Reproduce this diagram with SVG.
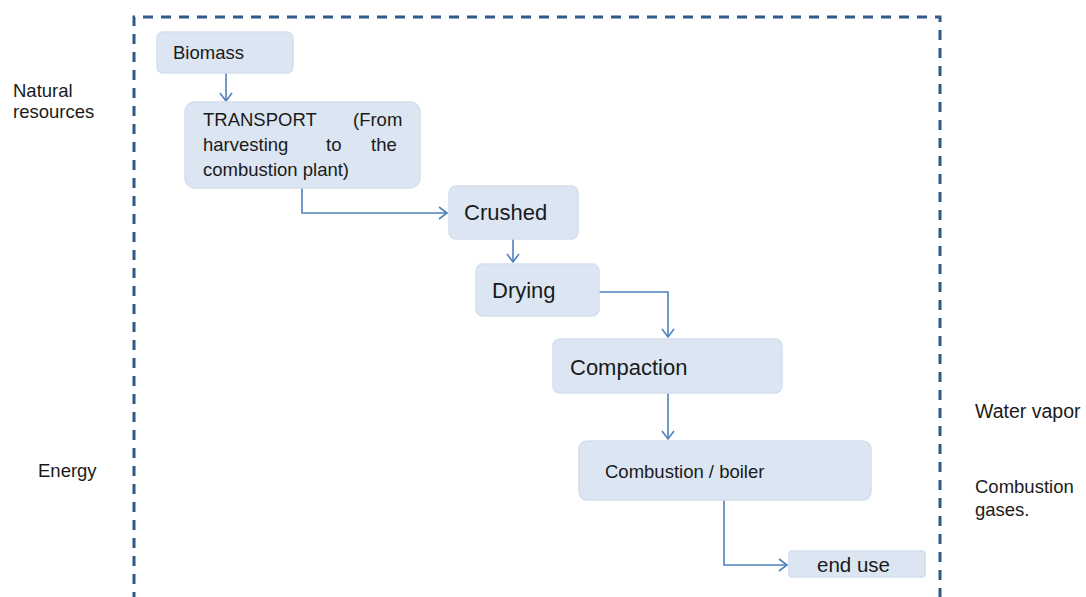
<svg xmlns="http://www.w3.org/2000/svg" width="1086" height="597" viewBox="0 0 1086 597">
<style>
.n{fill:#DCE6F2;stroke:#D3DEEE;stroke-width:1.5}
.t{font-family:"Liberation Sans",Arial,sans-serif;fill:#1a1a1a}
.c{fill:none;stroke:#4F81BD;stroke-width:1.6;marker-end:url(#a)}
</style>
<defs>
<marker id="a" markerWidth="14" markerHeight="14" refX="10" refY="6" orient="auto" markerUnits="userSpaceOnUse" viewBox="0 0 14 12">
<path d="M2,0 L10,6 L2,12" fill="none" stroke="#4F81BD" stroke-width="1.6"/>
</marker>
</defs>
<rect width="1086" height="597" fill="#ffffff"/>
<path d="M134,620 V17 H940 V620" fill="none" stroke="#2F5A8A" stroke-width="3" stroke-dasharray="10,8"/>
<g id="connectors">
<path class="c" d="M226,73 V101"/>
<path class="c" d="M302,188 V213 H447"/>
<path class="c" d="M513,239 V262"/>
<path class="c" d="M599,292 H668 V337"/>
<path class="c" d="M668,393 V439"/>
<path class="c" d="M724,500 V565 H787"/>
</g>
<g id="biomass"><rect class="n" x="157" y="32" width="136" height="41" rx="6"/><text class="t" x="173" y="59" font-size="18.5">Biomass</text></g>
<g id="transport"><rect class="n" x="185" y="102" width="235" height="86" rx="10"/>
<text class="t" font-size="18.5"><tspan x="203" y="126">TRANSPORT</tspan><tspan x="353" y="126">(From</tspan><tspan x="203" y="151">harvesting</tspan><tspan x="326" y="151">to</tspan><tspan x="371" y="151">the</tspan><tspan x="203" y="176">combustion plant)</tspan></text></g>
<g id="crushed"><rect class="n" x="449" y="186" width="129" height="53" rx="7"/><text class="t" x="464" y="220" font-size="22">Crushed</text></g>
<g id="drying"><rect class="n" x="476" y="264" width="123" height="52" rx="7"/><text class="t" x="492" y="298" font-size="22">Drying</text></g>
<g id="compaction"><rect class="n" x="553" y="339" width="229" height="54" rx="7"/><text class="t" x="570" y="375" font-size="22">Compaction</text></g>
<g id="combustion"><rect class="n" x="579" y="441" width="292" height="59" rx="8"/><text class="t" x="605" y="478" font-size="18.5">Combustion / boiler</text></g>
<g id="enduse"><rect class="n" x="789" y="551" width="136" height="26" rx="3"/><text class="t" x="817" y="572" font-size="20.5">end use</text></g>
<g id="labels">
<text class="t" font-size="18.5"><tspan x="13" y="97">Natural</tspan><tspan x="13" y="118">resources</tspan></text>
<text class="t" x="38" y="477" font-size="18.5">Energy</text>
<text class="t" x="975" y="418" font-size="19.5">Water vapor</text>
<text class="t" font-size="18.5"><tspan x="975" y="493">Combustion</tspan><tspan x="975" y="516">gases.</tspan></text>
</g>
</svg>
